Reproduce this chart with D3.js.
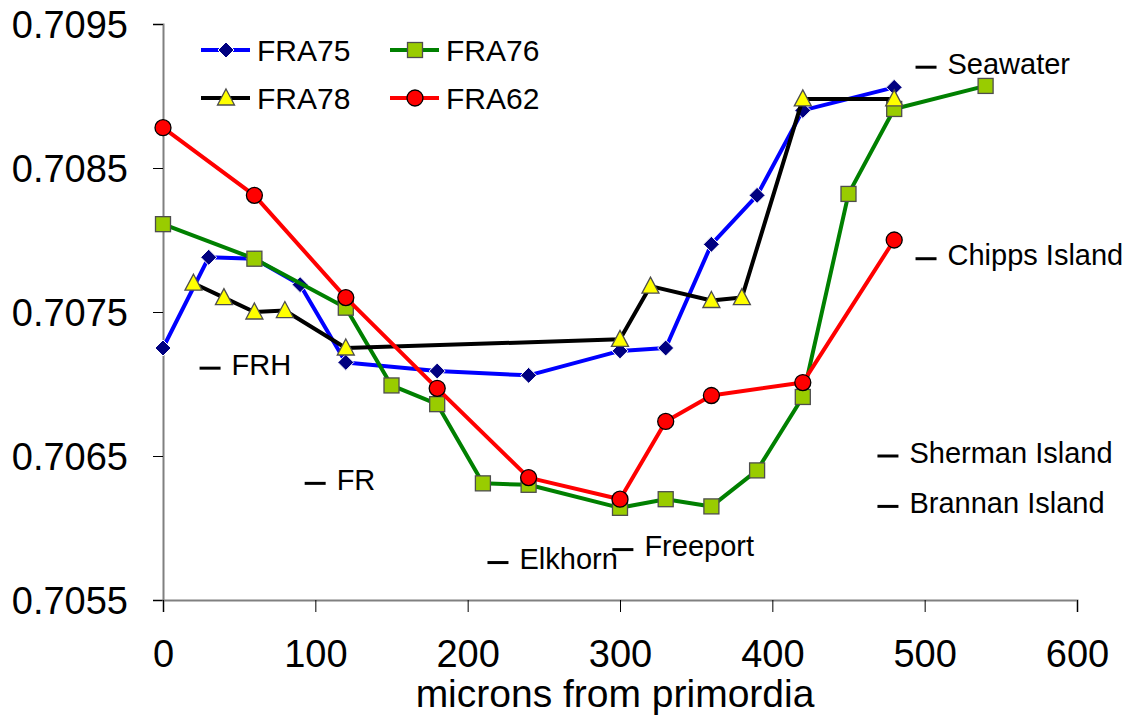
<!DOCTYPE html>
<html><head><meta charset="utf-8">
<script src="https://cdnjs.cloudflare.com/ajax/libs/d3/7.8.5/d3.min.js"></script>
<style>
html,body{margin:0;padding:0;background:#fff;}
svg{display:block;font-family:"Liberation Sans",Arial,sans-serif;}
</style></head>
<body>
<svg id="chart" width="1132" height="717"></svg>
<script>
const xTicks = [0,100,200,300,400,500,600];
const yTicks = [0.7055,0.7065,0.7075,0.7085,0.7095];

const fra75X = [0,30,60,90,120,180,240,300,330,360,390,420,480];
const fra75Y = [0.70725,0.70788,0.70787,0.70769,0.70715,0.70709,0.70706,0.70723,0.70725,0.70797,0.70831,0.70890,0.70906];

const fra76X = [0,60,120,150,180,210,240,300,330,360,390,420,450,480,540];
const fra76Y = [0.70811,0.70787,0.70753,0.70699,0.70686,0.70631,0.70630,0.70614,0.70620,0.70615,0.70640,0.70691,0.70832,0.70891,0.70907];

const fra78X = [20,40,60,80,120,300,320,360,380,420,480];
const fra78Y = [0.70770,0.70760,0.70750,0.70751,0.70725,0.70731,0.70768,0.70758,0.70760,0.70898,0.70898];

const fra62X = [0,60,120,180,240,300,330,360,420,480];
const fra62Y = [0.70878,0.70831,0.70760,0.70697,0.70635,0.70620,0.70674,0.70692,0.70701,0.70800];

const seriesNames = ["FRA75","FRA76","FRA78","FRA62"];

const refLabels = ["FRH","FR","Elkhorn","Freeport","Seawater","Chipps Island","Sherman Island","Brannan Island"];
const refX = [24,93,213,295,494,494,469,469];
const refY = [0.70711,0.70631,0.70576,0.70585,0.70920,0.70787,0.70650,0.70615];

const svg = d3.select("#chart");
const x = d3.scaleLinear().domain([0,600]).range([163,1077]);
const y = d3.scaleLinear().domain([0.7055,0.7095]).range([600,24]);

// axes
const yAxis = svg.append("g").attr("transform","translate(163,0)")
  .call(d3.axisLeft(y).tickValues(yTicks).tickFormat(d3.format(".4f")).tickSize(10).tickPadding(25));
const xAxis = svg.append("g").attr("transform","translate(0,600)")
  .call(d3.axisBottom(x).tickValues(xTicks).tickFormat(d3.format("d")).tickSize(12).tickPadding(28));
[yAxis,xAxis].forEach(g=>{
  g.select(".domain").attr("stroke","#808080").attr("stroke-width",2);
  g.selectAll(".tick line").attr("stroke","#000").attr("stroke-width",1);
  g.selectAll(".tick text").attr("fill","#000").attr("font-size",38).attr("font-family","Liberation Sans, Arial, sans-serif");
});
yAxis.selectAll(".tick text").attr("dy","0.36em");

svg.append("text").attr("x",x(300)-5).attr("y",707).attr("text-anchor","middle")
  .attr("font-size",39).attr("fill","#000").text("microns from primordia");

// reference annotations
const refs = refLabels.map((l,i)=>({l, x:refX[i], y:refY[i]}));
const rg = svg.append("g");
rg.selectAll("line").data(refs).join("line")
  .attr("x1",d=>x(d.x)).attr("x2",d=>x(d.x)+21)
  .attr("y1",d=>y(d.y)).attr("y2",d=>y(d.y))
  .attr("stroke","#000").attr("stroke-width",3);
rg.selectAll("text").data(refs).join("text")
  .attr("x",d=>x(d.x)+32).attr("y",d=>y(d.y)).attr("dy","0.23em")
  .attr("font-size",29).attr("fill","#000").text(d=>d.l);

// series
const series = [
  {name:"FRA75", xs:fra75X, ys:fra75Y, line:"#0000FF", shape:"diamond"},
  {name:"FRA76", xs:fra76X, ys:fra76Y, line:"#008000", shape:"square"},
  {name:"FRA78", xs:fra78X, ys:fra78Y, line:"#000000", shape:"triangle"},
  {name:"FRA62", xs:fra62X, ys:fra62Y, line:"#FF0000", shape:"circle"}
];
function drawMarker(g, shape, cx, cy){
  if(shape==="diamond"){
    g.append("path").attr("d",`M${cx},${cy-8}L${cx+8},${cy}L${cx},${cy+8}L${cx-8},${cy}Z`)
      .attr("fill","#000080").attr("stroke","#fff").attr("stroke-width",1);
  } else if(shape==="square"){
    g.append("rect").attr("x",cx-7.5).attr("y",cy-7.5).attr("width",15).attr("height",15)
      .attr("fill","#99CC00").attr("stroke","#4d4d4d").attr("stroke-width",1.3);
  } else if(shape==="triangle"){
    g.append("path").attr("d",`M${cx},${cy-9}L${cx+8.5},${cy+7}L${cx-8.5},${cy+7}Z`)
      .attr("fill","#FFFF00").attr("stroke","#4d4d4d").attr("stroke-width",1.3);
  } else {
    g.append("circle").attr("cx",cx).attr("cy",cy).attr("r",8)
      .attr("fill","#FF0000").attr("stroke","#000").attr("stroke-width",1.3);
  }
}
const line = d3.line().x(d=>x(d[0])).y(d=>y(d[1]));
series.forEach(s=>{
  const pts = s.xs.map((v,i)=>[v,s.ys[i]]);
  const g = svg.append("g");
  g.append("path").attr("d",line(pts)).attr("fill","none").attr("stroke",s.line)
    .attr("stroke-width",4).attr("stroke-linejoin","round");
  pts.forEach(p=>drawMarker(g,s.shape,x(p[0]),y(p[1])));
});

// legend
const legPos = [[201,50],[390,50],[201,98],[390,98]];
series.forEach((s,i)=>{
  const [lx,ly] = legPos[i];
  const g = svg.append("g");
  g.append("line").attr("x1",lx).attr("x2",lx+49).attr("y1",ly).attr("y2",ly)
    .attr("stroke",s.line).attr("stroke-width",4);
  drawMarker(g,s.shape,lx+25,ly);
  g.append("text").attr("x",lx+56).attr("y",ly).attr("dy","0.36em")
    .attr("font-size",30).attr("fill","#000").text(s.name);
});
</script>
</body></html>
